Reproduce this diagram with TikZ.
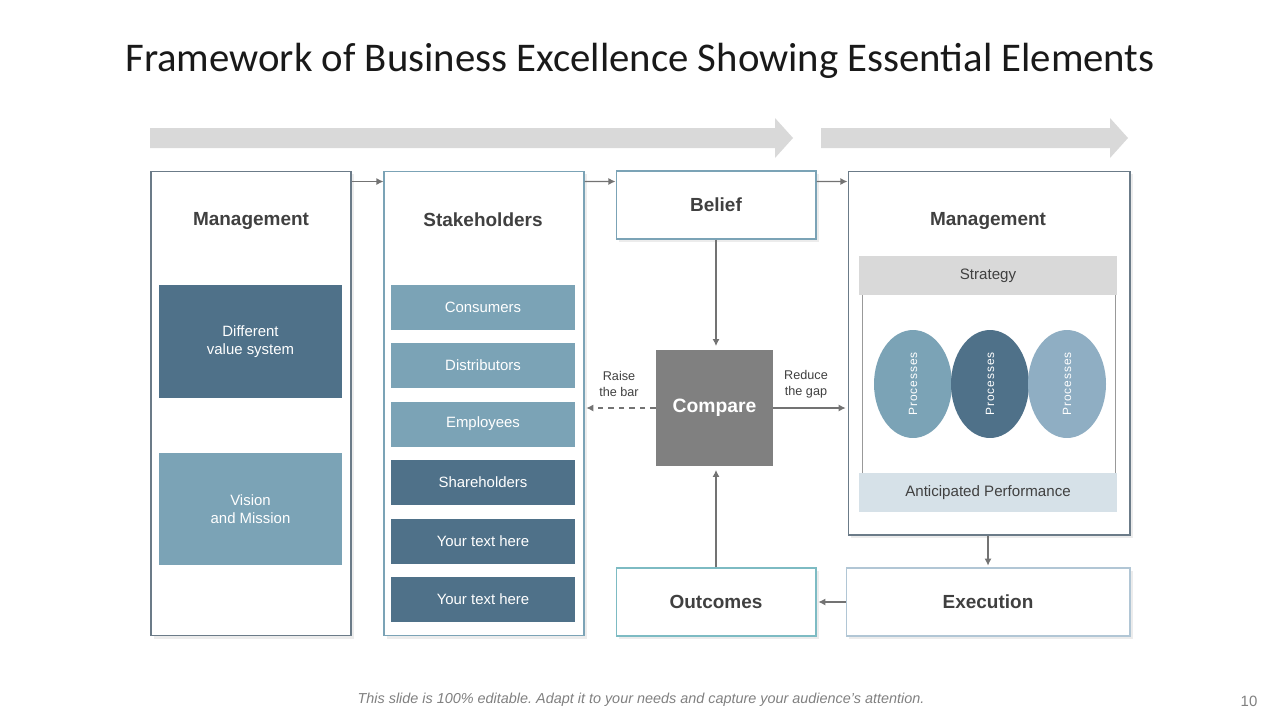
\documentclass[tikz,border=0pt]{standalone}
\usepackage{fontspec}
\setmainfont{Liberation Sans}
\newfontfamily\titlefont{Carlito}
\usetikzlibrary{arrows.meta, shapes.geometric, shadows}

\definecolor{darkblue}{HTML}{4F7189}
\definecolor{lightblue}{HTML}{7BA3B6}
\definecolor{paleblue}{HTML}{8FAEC3}
\definecolor{bandgray}{HTML}{D9D9D9}
\definecolor{bandblue}{HTML}{D6E1E8}
\definecolor{linegray}{HTML}{737373}
\definecolor{textgray}{HTML}{404040}
\definecolor{edgegray}{HTML}{6B7B88}
\definecolor{edgeteal}{HTML}{7DBBC3}
\definecolor{comparegray}{HTML}{808080}

\begin{document}
\begin{tikzpicture}[x=0.02cm, y=-0.02cm,
    box/.style={draw=edgegray, fill=white, line width=0.6pt,
        drop shadow={shadow xshift=1.5pt, shadow yshift=-1.5pt, opacity=0.15}},
    head/.style={font=\fontsize{10.8}{12}\selectfont\bfseries, text=textgray},
    item/.style={minimum width=3.68cm, minimum height=0.9cm, inner sep=0pt,
        text=white, font=\fontsize{8.5}{10}\selectfont},
    band/.style={minimum width=5.16cm, minimum height=0.78cm, inner sep=0pt,
        text=textgray, font=\fontsize{8.6}{10}\selectfont},
    proc/.style={ellipse, minimum width=1.56cm, minimum height=2.16cm, inner sep=0pt},
    small/.style={align=center, text=textgray, font=\fontsize{7.2}{9}\selectfont},
    conn/.style={draw=linegray, line width=0.8pt, -{Latex[length=4pt,width=4pt]}}
]
    \useasboundingbox (0,0) rectangle (1280,720);

    % TITLE
    \node (title) at (640,61) {\titlefont\fontsize{23.2}{27}\selectfont\color{black!90}
        Framework of Business Excellence Showing Essential Elements};

    % BIG ARROWS
    \fill[bandgray] (150,128) -- (775,128) -- (775,118) -- (793,138) --
        (775,158) -- (775,148) -- (150,148) -- cycle;
    \fill[bandgray] (821,128) -- (1110,128) -- (1110,118) -- (1128,138) --
        (1110,158) -- (1110,148) -- (821,148) -- cycle;

    % MAIN BOXES
    \node[box, minimum width=4cm, minimum height=9.3cm] (mgmtL) at (251,403.5) {};
    \node[box, draw=lightblue, minimum width=4cm, minimum height=9.3cm] (stake) at (484,403.5) {};
    \node[box, draw=lightblue, minimum width=4cm, minimum height=1.36cm, head] (belief) at (716,205) {Belief};
    \node[box, minimum width=5.64cm, minimum height=7.28cm] (mgmtR) at (989,353) {};
    \node[box, draw=edgeteal, minimum width=4cm, minimum height=1.36cm, head] (outcomes) at (716,602) {Outcomes};
    \node[box, draw=paleblue!70, minimum width=5.68cm, minimum height=1.36cm, head] (execution) at (988,602) {Execution};
    \node[fill=comparegray, minimum width=2.34cm, minimum height=2.32cm, text=white,
        font=\fontsize{11}{13}\selectfont\bfseries] (compare) at (714.5,408) {Compare};

    \node[head] (mgmtLhead) at (251,221) {Management};
    \node[head] (stakehead) at (483,220) {Stakeholders};
    \node[head] (mgmtRhead) at (988,221) {Management};

    % LEFT PANELS
    \node[item, fill=darkblue, minimum width=3.66cm, minimum height=2.26cm, align=center]
        (diffval) at (250.5,341.5) {Different\\value system};
    \node[item, fill=lightblue, minimum width=3.66cm, minimum height=2.26cm, align=center]
        (vision) at (250.5,509) {Vision\\and Mission};

    % STAKEHOLDER ITEMS
    \foreach \y/\c/\t [count=\i] in {
        307/lightblue/Consumers,
        365/lightblue/Distributors,
        424/lightblue/Employees,
        482/darkblue/Shareholders,
        541/darkblue/Your text here,
        599.5/darkblue/Your text here
    }{
        \node[item, fill=\c] (s\i) at (483,\y) {\t};
    }

    % STRATEGY PANEL
    \draw[draw=gray!80, line width=0.5pt] (862,258) rectangle (1115,510);
    \node[band, fill=bandgray] (strategy) at (988,275.5) {Strategy};
    \node[band, fill=bandblue] (perf) at (988,492.5) {Anticipated Performance};
    \foreach \x/\c [count=\i] in {913/lightblue, 990/darkblue, 1067/paleblue}{
        \node[proc, fill=\c] (proc\i) at (\x,384) {};
        \node[rotate=90, text=white, font=\fontsize{6.8}{8}\selectfont\addfontfeatures{LetterSpace=8}]
            at (proc\i) {Processes};
    }

    % CONNECTORS
    \draw[conn] ([yshift=-0.22cm]mgmtL.north east) -- ([yshift=-0.22cm]stake.north west);
    \draw[conn] ([yshift=-0.22cm]stake.north east) -- ([yshift=-0.22cm]belief.north west);
    \draw[conn] ([yshift=-0.22cm]belief.north east) -- ([yshift=-0.22cm]mgmtR.north west);
    \draw[conn, shorten >=2pt] (belief.south) -- (belief.south |- compare.north);
    \draw[conn, shorten >=2pt] (outcomes.north) -- (outcomes.north |- compare.south);
    \draw[conn, dashed, shorten >=1pt] (compare.west) -- (stake.east |- compare.west);
    \draw[conn, shorten >=1pt] (compare.east) -- (mgmtR.west |- compare.east);
    \draw[conn, shorten >=1pt] (mgmtR.south -| execution.north) -- (execution.north);
    \draw[conn, shorten >=1pt] (execution.west) -- (outcomes.east);

    \node[small] (raise) at (619,384) {Raise\\the bar};
    \node[small] (reduce) at (806,384) {Reduce\\the gap};

    % FOOTER
    \node[text=gray, font=\fontsize{8.2}{9}\selectfont\itshape] (footer) at (641,700)
        {This slide is 100\% editable.\ Adapt it to your needs and capture your audience’s attention.};
    \node[text=gray, font=\fontsize{8.5}{9}\selectfont] (pagenum) at (1249,701) {10};

\end{tikzpicture}
\end{document}
